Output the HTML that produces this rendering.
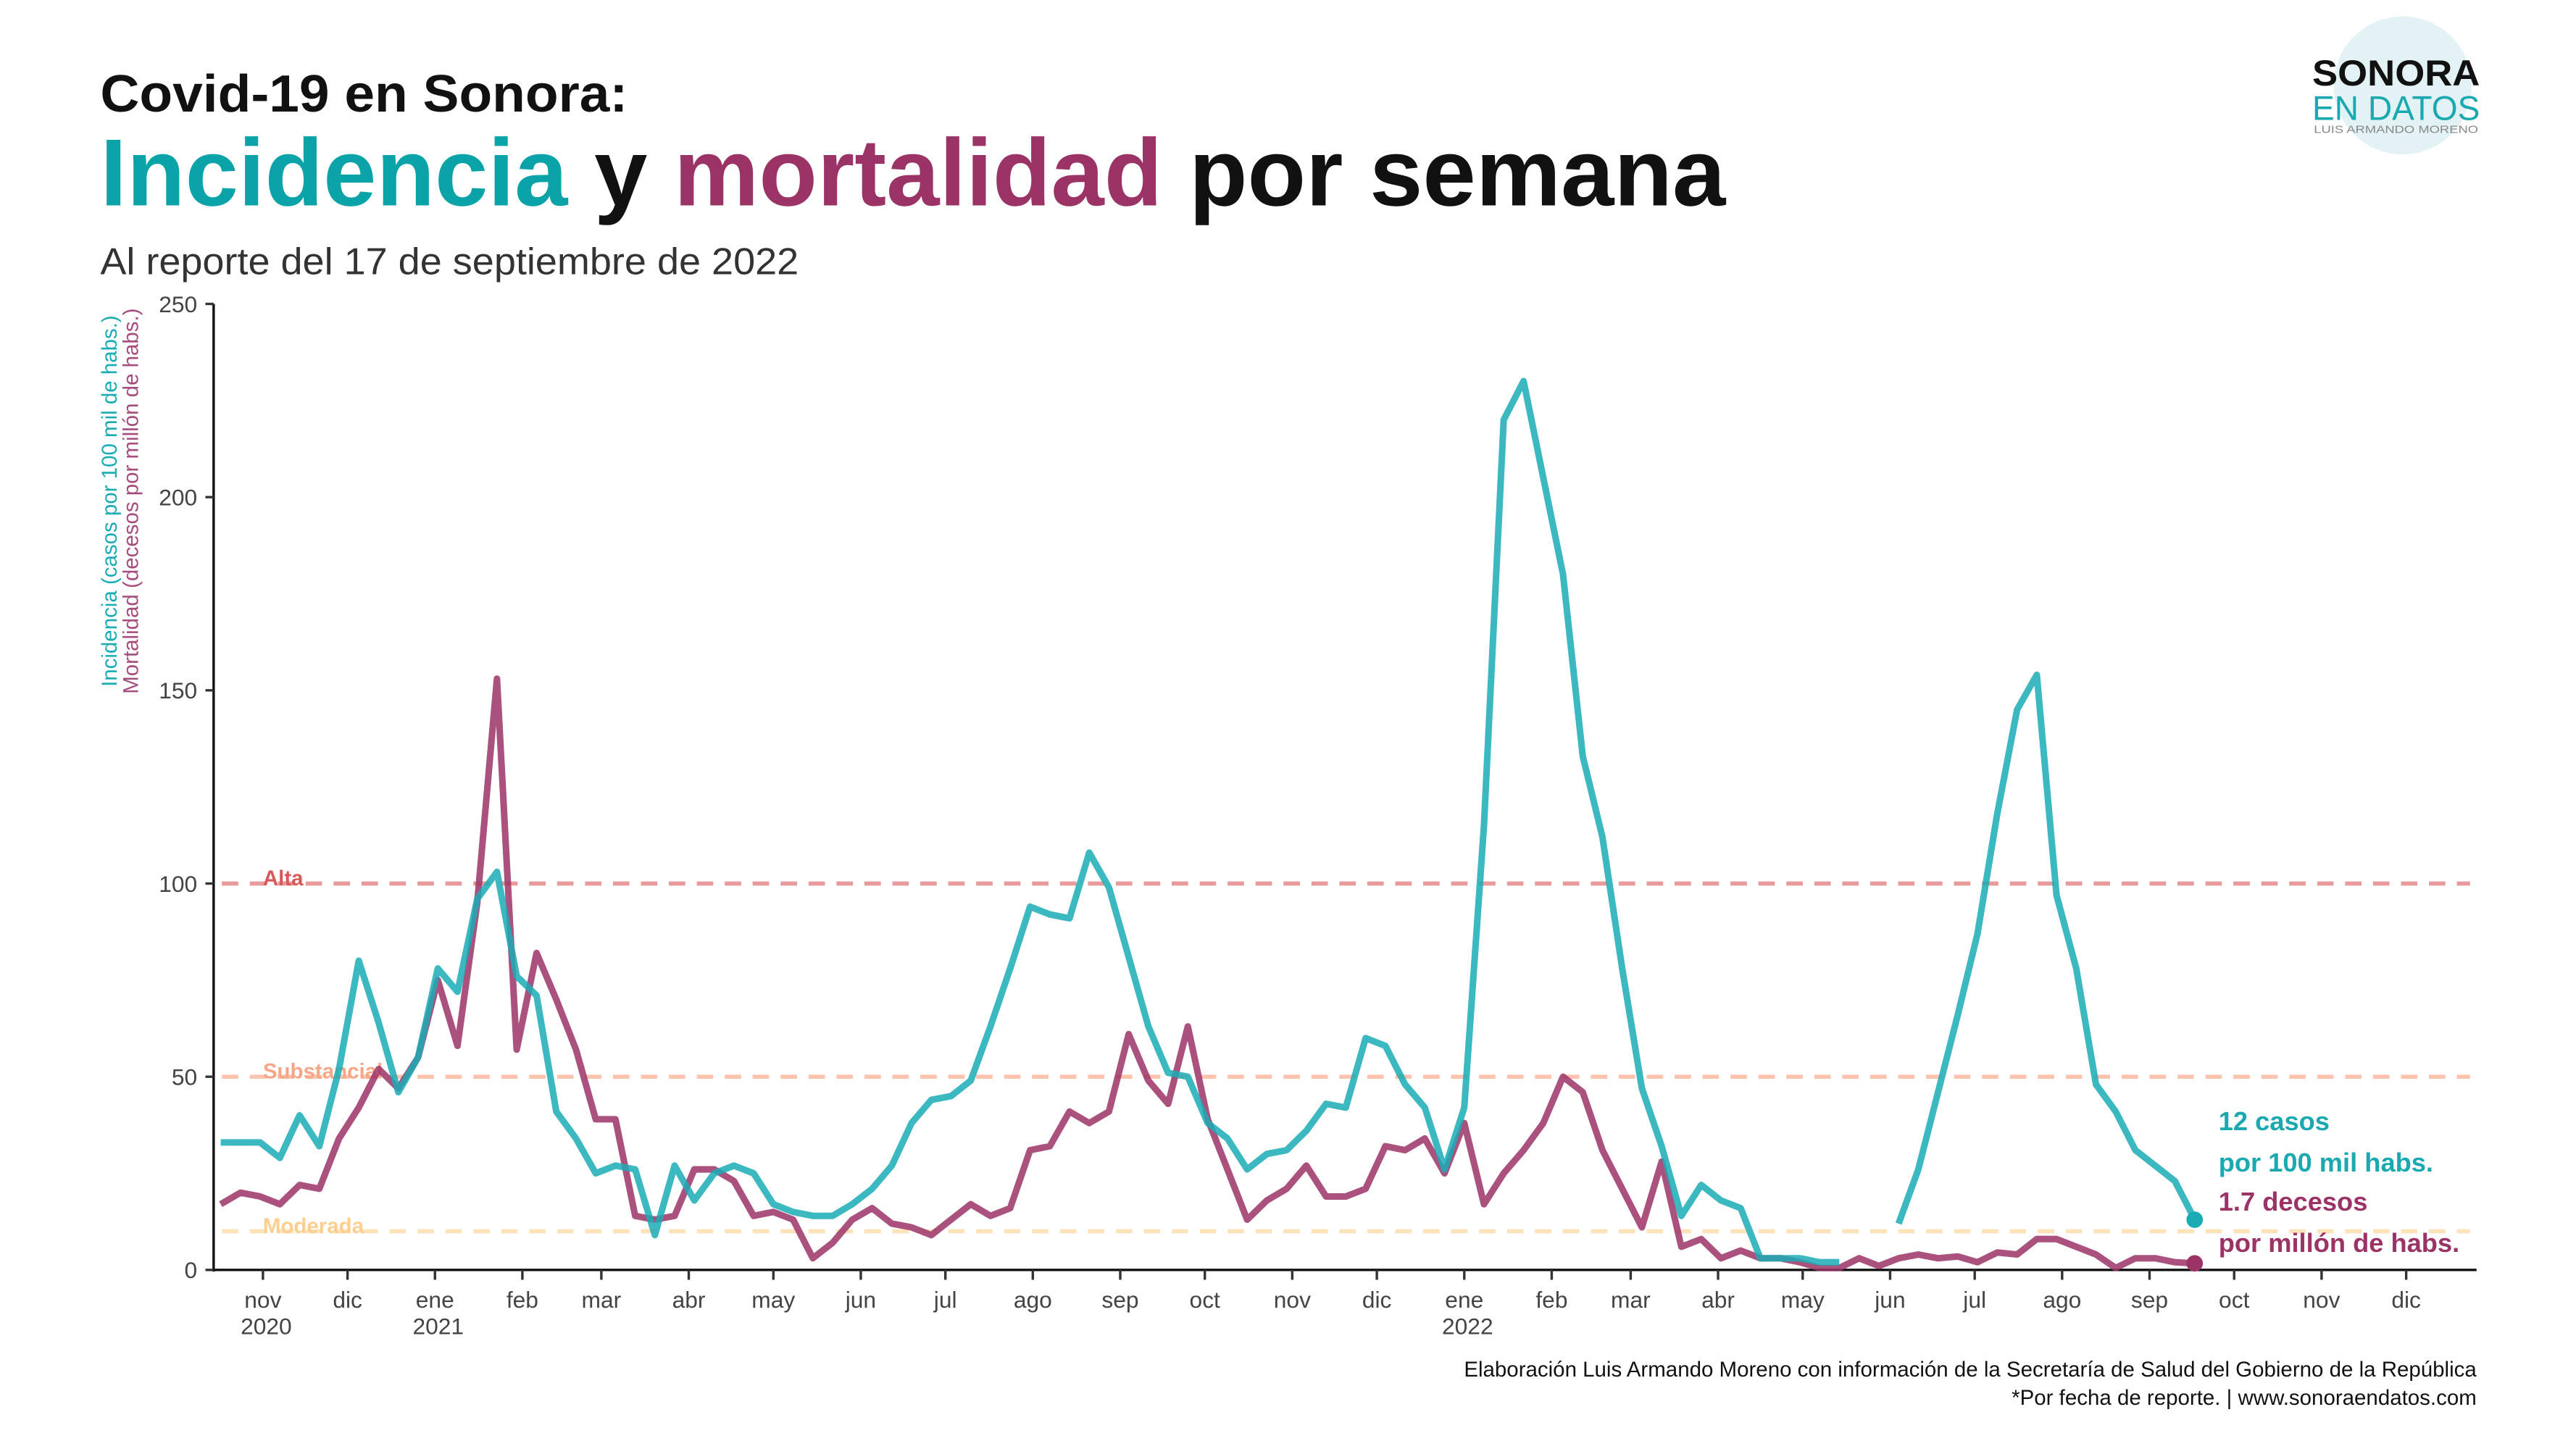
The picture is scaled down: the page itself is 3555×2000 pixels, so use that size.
<!DOCTYPE html>
<html><head><meta charset="utf-8"><style>
html,body{margin:0;padding:0;background:#fff}
svg{display:block}
text{font-family:"Liberation Sans",sans-serif}
</style></head><body>
<svg id="chart" width="3555" height="2000" viewBox="0 0 1567.5 882" preserveAspectRatio="none" xmlns="http://www.w3.org/2000/svg">
<g>
<circle cx="1462" cy="52" r="42" fill="#e3f2f4"/>
<text x="1458" y="52" text-anchor="middle" font-size="22" font-weight="bold" fill="#111" textLength="102" lengthAdjust="spacingAndGlyphs">SONORA</text>
<text x="1458" y="73" text-anchor="middle" font-size="21" fill="#1aa9b0" textLength="102" lengthAdjust="spacingAndGlyphs">EN DATOS</text>
<text x="1458" y="81" text-anchor="middle" font-size="6.5" fill="#888" textLength="100" lengthAdjust="spacingAndGlyphs">LUIS ARMANDO MORENO</text>
</g>
<text x="61" y="68" font-size="32" font-weight="bold" fill="#111" textLength="321" lengthAdjust="spacingAndGlyphs">Covid-19  en Sonora:</text>
<text x="61" y="125" font-size="58" font-weight="bold" textLength="989" lengthAdjust="spacingAndGlyphs"><tspan fill="#0aa3a8">Incidencia</tspan><tspan fill="#111"> y </tspan><tspan fill="#9c3367">mortalidad</tspan><tspan fill="#111"> por semana</tspan></text>
<text x="61" y="167" font-size="23" fill="#333" textLength="425" lengthAdjust="spacingAndGlyphs">Al reporte del 17 de septiembre de 2022</text>
<g font-size="13">
<text transform="translate(71,305) rotate(-90)" text-anchor="middle" fill="#1aacb5">Incidencia (casos por 100 mil de habs.)</text>
<text transform="translate(84,305) rotate(-90)" text-anchor="middle" fill="#a54d7c">Mortalidad (decesos por millón de habs.)</text>
</g>
<g id="grid"></g>
<g id="axes"></g>
<g id="series"></g>
<g font-size="16" font-weight="bold">
<text x="1350" y="688" fill="#1aa9b0">12 casos</text>
<text x="1350" y="713" fill="#1aa9b0">por 100 mil habs.</text>
<text x="1350" y="737" fill="#9c3367">1.7 decesos</text>
<text x="1350" y="762" fill="#9c3367">por millón de habs.</text>
</g>
<g font-size="13" fill="#111" text-anchor="end">
<text x="1507" y="838">Elaboración Luis Armando Moreno con información de la Secretaría de Salud del Gobierno de la República</text>
<text x="1507" y="855">*Por fecha de reporte. | www.sonoraendatos.com</text>
</g>
</svg>
<script>
const incidencia=[33,33,33,29,40,32,52,80,64,46,55,78,72,96,103,76,71,41,34,25,27,26,9,27,18,25,27,25,17,15,14,14,17,21,27,38,44,45,49,63,78,94,92,91,108,99,81,63,51,50,38,34,26,30,31,36,43,42,60,58,48,42,26,42,115,220,230,205,180,133,112,78,47,32,14,22,18,16,3,3,3,2,2,null,null,12,26,46,66,87,118,145,154,97,78,48,41,31,27,23,13];
const mortalidad=[17,20,19,17,22,21,34,42,52,47,55,75,58,95,153,57,82,70,57,39,39,14,13,14,26,26,23,14,15,13,3,7,13,16,12,11,9,13,17,14,16,31,32,41,38,41,61,49,43,63,39,26,13,18,21,27,19,19,21,32,31,34,25,38,17,25,31,38,50,46,31,21,11,28,6,8,3,5,3,3,2,0.5,0.5,3,1,3,4,3,3.5,2,4.5,4,8,8,6,4,0.5,3,3,2,1.7];
const yTicks=[0,50,100,150,200,250];
const months=[["nov","2020"],["dic",""],["ene","2021"],["feb",""],["mar",""],["abr",""],["may",""],["jun",""],["jul",""],["ago",""],["sep",""],["oct",""],["nov",""],["dic",""],["ene","2022"],["feb",""],["mar",""],["abr",""],["may",""],["jun",""],["jul",""],["ago",""],["sep",""],["oct",""],["nov",""],["dic",""]];
const refLevels=[100,50,10];
const refNames=["Alta","Substancial","Moderada"];
const refColors=["#e99a9a","#fcc4ae","#fde3b8"];
const labelColors=["#d9585a","#f7a787","#fccf8f"];

const NS="http://www.w3.org/2000/svg";
const DAY=86400000, ORIGIN=Date.UTC(2020,10,1), START=Date.UTC(2020,9,17);
function xDate(t){return 160+(t-ORIGIN)/DAY*1.716;}
function yVal(v){return 773-v*(588/250);}
function mk(tag,attrs,parent){const e=document.createElementNS(NS,tag);for(const k in attrs)e.setAttribute(k,attrs[k]);parent.appendChild(e);return e;}
const grid=document.getElementById('grid'),axes=document.getElementById('axes'),series=document.getElementById('series');

refLevels.forEach((lv,i)=>{
  const l=mk('line',{x1:135,x2:1503,y1:yVal(lv),y2:yVal(lv),stroke:refColors[i],'stroke-width':2.5,'stroke-dasharray':'10 7'},grid);
  
  
  const t=mk('text',{x:160,y:yVal(lv)+1,'font-size':13,'font-weight':'bold',fill:labelColors[i]},grid);
  t.textContent=refNames[i];
  
  
});

const ya=mk('line',{x1:130,x2:130,y1:185,y2:774,stroke:'#111','stroke-width':1.5},axes);


const xa=mk('line',{x1:129,x2:1507,y1:773,y2:773,stroke:'#111','stroke-width':1.5},axes);


yTicks.forEach(v=>{
  mk('line',{x1:125,x2:130,y1:yVal(v),y2:yVal(v),stroke:'#333','stroke-width':1.5},axes);
  const t=mk('text',{x:120,y:yVal(v)+5,'font-size':14,'text-anchor':'end',fill:'#444'},axes);
  t.textContent=v;
  
  
});
months.forEach((m,i)=>{
  const d=Date.UTC(2020,10+i,1), x=xDate(d);
  mk('line',{x1:x,x2:x,y1:773,y2:779,stroke:'#333','stroke-width':1.5},axes);
  const t=mk('text',{x:x,y:796,'font-size':14,'text-anchor':'middle',fill:'#444'},axes);
  t.textContent=m[0];
  
  
  if(m[1]){const t2=mk('text',{x:x+2,y:812,'font-size':14,'text-anchor':'middle',fill:'#444'},axes);t2.textContent=m[1];
  
  }
});

function drawLine(arr,color,name){
  let segs=[],cur=[];
  arr.forEach((v,i)=>{if(v===null){if(cur.length)segs.push(cur);cur=[];}else cur.push([xDate(START+i*7*DAY),yVal(v)]);});
  if(cur.length)segs.push(cur);
  segs.forEach(s=>{
    const p=mk('path',{d:'M'+s.map(q=>q[0].toFixed(1)+','+q[1].toFixed(1)).join('L'),fill:'none',stroke:color,'stroke-width':4,'stroke-linejoin':'round','stroke-opacity':0.85},series);
    
    
  });
  const li=arr.length-1;
  const c=mk('circle',{cx:xDate(START+li*7*DAY),cy:yVal(arr[li]),r:5,fill:color},series);
  
  
}
drawLine(mortalidad,'#9c3367','mortalidad');
drawLine(incidencia,'#1aacb5','incidencia');
</script>
</body></html>
